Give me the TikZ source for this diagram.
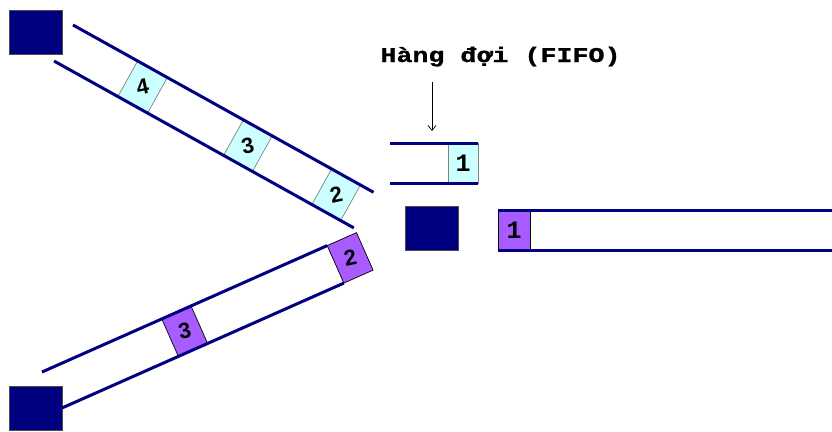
\documentclass[tikz,border=0pt]{standalone}
\usepackage{fontspec}
\usetikzlibrary{arrows.meta}
\newfontfamily\titlefont{Liberation Mono}[FakeStretch=1.27, BoldFeatures={FakeBold=1.2}]
\newfontfamily\monofnt{Liberation Mono}
\newfontfamily\digfont{Liberation Sans}
\definecolor{navyq}{RGB}{0,0,128}
\definecolor{cyanq}{RGB}{204,255,255}
\definecolor{purpq}{RGB}{168,92,255}
\tikzset{
  tube/.style={draw=navyq, line width=3pt},
  host/.style={draw=black!70, fill=navyq, line width=0.6pt, minimum width=53pt, minimum height=44pt, inner sep=0pt},
  cbox/.style={draw=black!50, fill=cyanq, line width=0.7pt, inner sep=0pt, transform shape},
  pbox/.style={draw=black, fill=purpq, line width=0.7pt, inner sep=0pt, transform shape},
  rdig/.style={font=\digfont\bfseries\fontsize{22}{22}\selectfont, inner sep=0pt},
  mdig/.style={font=\monofnt\bfseries\fontsize{25}{25}\selectfont, inner sep=0pt},
}
\begin{document}
\begin{tikzpicture}[x=1pt,y=1pt]
\useasboundingbox (0,0) rectangle (832,-431);
% hosts
\node[host] (h1) at (35.5,-32) {};
\node[host] (h2) at (35.5,-408) {};
\node[host] (h3) at (432,-228) {};
% upper tube
\begin{scope}[shift={(73,-25)}, rotate=-29.1]
  \node[cbox, minimum width=34pt, minimum height=40.7pt] (u4) at (91,-20.35) {};
  \node[cbox, minimum width=33pt, minimum height=40.7pt] (u3) at (211.5,-20.35) {};
  \node[cbox, minimum width=33pt, minimum height=40.7pt] (u2) at (312.5,-20.35) {};
  \coordinate (ua1) at (0,0);
  \coordinate (ua2) at (344,0);
  \coordinate (ub1) at (1,-40.7);
  \coordinate (ub2) at (344,-40.7);
\end{scope}
\draw[tube] (ua1) -- (ua2);
\draw[tube] (ub1) -- (ub2);
\node[rdig, rotate=12] at (u4) {4};
\node[rdig, rotate=12] at (u3) {3};
\node[rdig, rotate=12] at (u2) {2};
% lower tube
\begin{scope}[shift={(42,-372)}, rotate=23.9]
  \node[pbox, minimum width=32pt, minimum height=41pt] (l3) at (147,-20.5) {};
  \node[pbox, minimum width=32pt, minimum height=41pt] (l2) at (328,-20.5) {};
  \coordinate (la1) at (0,0);
  \coordinate (la2) at (312,0);
  \coordinate (lb1) at (4,-41);
  \coordinate (lb2) at (312,-41);
\end{scope}
\draw[tube] (la1) -- (la2);
\draw[tube] (lb1) -- (lb2);
\node[rdig, rotate=12] at (l3) {3};
\node[rdig, rotate=12] at (l2) {2};
% queue (FIFO)
\node[draw=black!50, fill=cyanq, line width=0.7pt, minimum width=30pt, minimum height=40pt, inner sep=0pt] (q1) at (463,-163) {};
\node[mdig] at (q1) {1};
\coordinate (qa1) at (390,-143);
\coordinate (qa2) at (478,-143);
\coordinate (qb1) at (390,-183);
\coordinate (qb2) at (478,-183);
\draw[tube] (qa1) -- (qa2);
\draw[tube] (qb1) -- (qb2);
% outgoing link
\node[draw=black, fill=purpq, line width=0.7pt, minimum width=32pt, minimum height=40pt, inner sep=0pt] (o1) at (514,-230) {};
\node[mdig] at (o1) {1};
\coordinate (oa1) at (498,-210);
\coordinate (oa2) at (832,-210);
\coordinate (ob1) at (498,-250);
\coordinate (ob2) at (832,-250);
\draw[tube] (oa1) -- (oa2);
\draw[tube] (ob1) -- (ob2);
% title
\node[font=\titlefont\bfseries\fontsize{21}{21}\selectfont, anchor=base, inner sep=0pt] (title) at (500.5,-62) {Hàng đợi (FIFO)};
\coordinate (arS) at (432,-82);
\coordinate (arE) at (432,-131);
\draw[line width=0.7pt, -{Straight Barb[length=5pt,width=8pt]}] (arS) -- (arE);
\end{tikzpicture}
\end{document}
